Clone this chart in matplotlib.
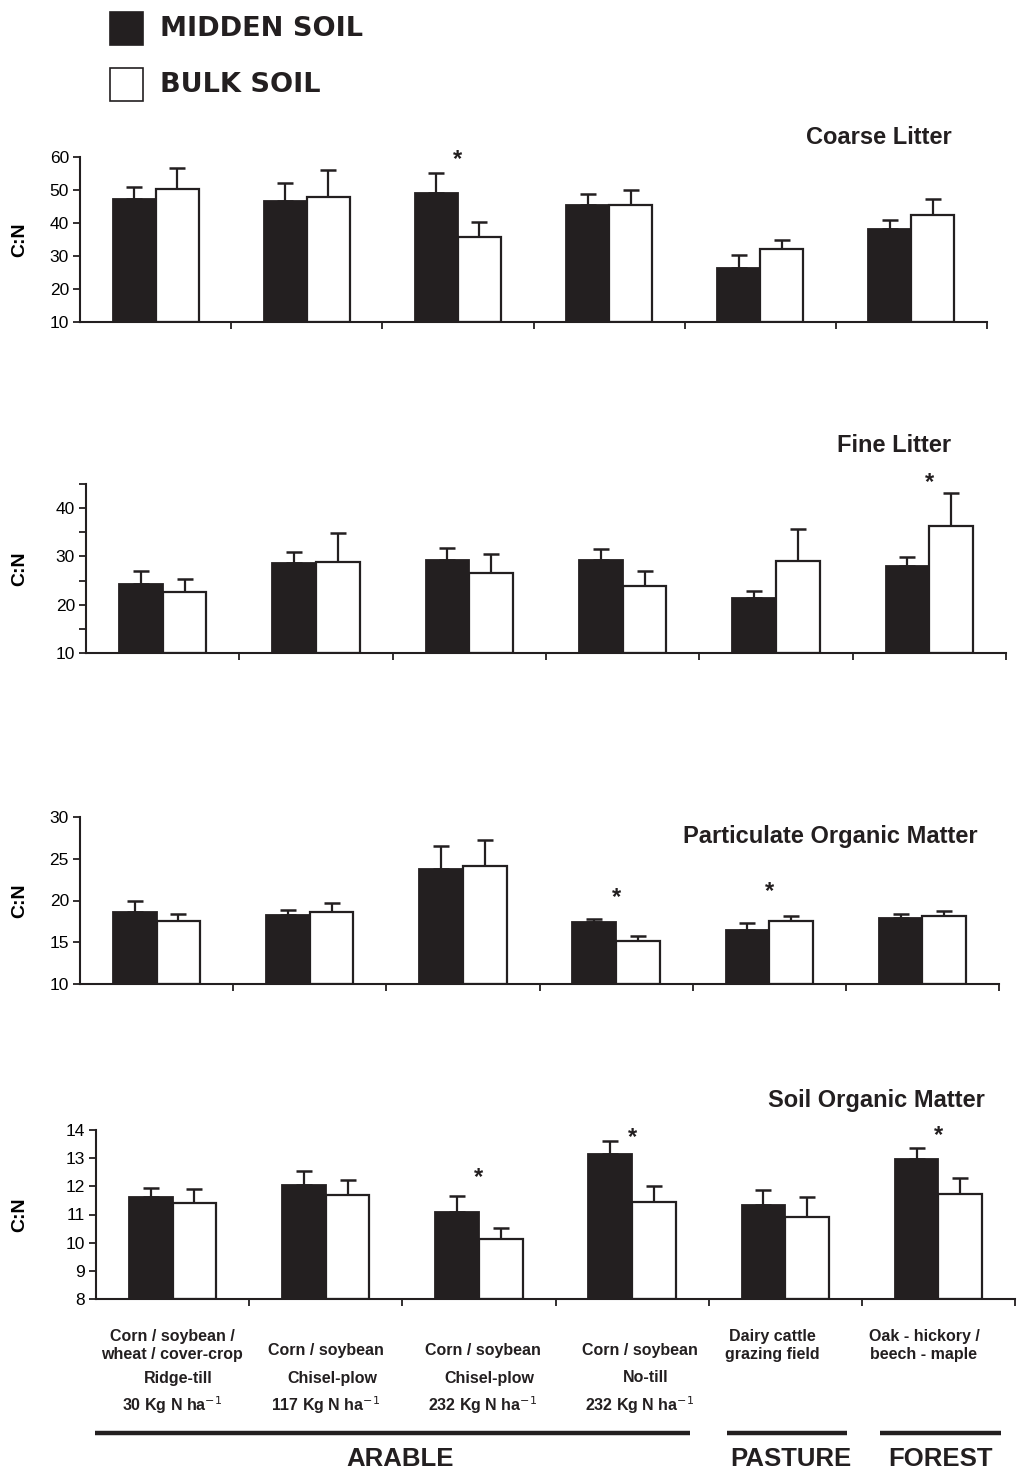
#!/usr/bin/env python3
"""C:N ratios of midden vs bulk soil fractions across land uses (4 stacked panels)."""

import matplotlib

matplotlib.use("Agg")
import matplotlib.pyplot as plt
from matplotlib import font_manager
from matplotlib.lines import Line2D
from matplotlib.patches import Rectangle
from matplotlib.ticker import MultipleLocator

W, H = 1023, 1477

# ---- data ----
coarse_midden = [47.4, 46.7, 49.2, 45.5, 26.4, 38.3]
coarse_midden_err = [3.4, 5.5, 5.8, 3.3, 3.9, 2.7]
coarse_bulk = [50.3, 48.0, 35.9, 45.5, 32.2, 42.3]
coarse_bulk_err = [6.5, 8.0, 4.3, 4.6, 2.8, 5.0]
coarse_stars = [(2, 59.1)]

fine_midden = [24.2, 28.6, 29.3, 29.3, 21.4, 28.1]
fine_midden_err = [2.8, 2.4, 2.4, 2.2, 1.4, 1.8]
fine_bulk = [22.7, 28.9, 26.5, 23.9, 29.0, 36.4]
fine_bulk_err = [2.7, 6.0, 4.1, 3.1, 6.6, 6.8]
fine_stars = [(5, 45.4)]

pom_midden = [18.6, 18.3, 23.8, 17.4, 16.5, 17.9]
pom_midden_err = [1.3, 0.6, 2.7, 0.4, 0.8, 0.5]
pom_bulk = [17.5, 18.6, 24.1, 15.2, 17.5, 18.1]
pom_bulk_err = [0.9, 1.1, 3.2, 0.5, 0.6, 0.7]
pom_stars = [(3, 20.3), (4, 21.1)]

som_midden = [11.62, 12.05, 11.10, 13.15, 11.33, 12.97]
som_midden_err = [0.32, 0.49, 0.56, 0.45, 0.54, 0.40]
som_bulk = [11.42, 11.68, 10.14, 11.43, 10.92, 11.74]
som_bulk_err = [0.48, 0.56, 0.38, 0.58, 0.69, 0.54]
som_stars = [(2, 12.3), (3, 13.75), (5, 13.82)]

crop_labels = [
    "Corn / soybean /\nwheat / cover-crop",
    "Corn / soybean",
    "Corn / soybean",
    "Corn / soybean",
    "Dairy cattle\ngrazing field",
    "Oak - hickory /\nbeech - maple",
]
tillage_labels = ["Ridge-till", "Chisel-plow", "Chisel-plow", "No-till"]
n_rates = ["30", "117", "232", "232"]
land_uses = ["ARABLE", "PASTURE", "FOREST"]

BLACK = "#231f20"


def fx(px):
    return px / W


def fy(py):
    return 1 - py / H


available = {f.name for f in font_manager.fontManager.ttflist}
NARROW = next((name for name in ("Liberation Sans Narrow", "DejaVu Sans Condensed")
               if name in available), "Liberation Sans")

plt.rcParams["font.family"] = ["Liberation Sans", "DejaVu Sans"]
plt.rcParams["font.size"] = 12

fig = plt.figure(figsize=(W / 100, H / 100), dpi=100)


def draw_panel(box, midden, midden_err, bulk, bulk_err, ylim, major, minor, stars, title, title_xy):
    left, top, right, bottom = box
    ax = fig.add_axes([fx(left), fy(bottom), fx(right) - fx(left), fy(top) - fy(bottom)])
    n = len(midden)
    centers = [i + 0.5 for i in range(n)]
    bw = 0.285
    xm = [c - bw / 2 for c in centers]
    xb = [c + bw / 2 for c in centers]
    ax.bar(xm, [v - ylim[0] for v in midden], bottom=ylim[0], width=bw,
           color=BLACK, edgecolor=BLACK, linewidth=1.3, zorder=2)
    ax.bar(xb, [v - ylim[0] for v in bulk], bottom=ylim[0], width=bw,
           color="white", edgecolor=BLACK, linewidth=1.6, zorder=2)
    for xs, ys, es in ((xm, midden, midden_err), (xb, bulk, bulk_err)):
        ax.errorbar(xs, ys, yerr=[[0] * n, es], fmt="none", ecolor=BLACK,
                    elinewidth=1.6, capsize=5.5, capthick=1.8, zorder=1)
    for idx, yv in stars:
        ax.text(centers[idx], yv, "*", ha="center", va="center", fontsize=17,
                fontweight="bold", color=BLACK, clip_on=False)

    ax.set_xlim(0, n)
    ax.set_ylim(*ylim)
    ax.set_xticks(range(1, n + 1))
    ax.set_xticklabels([])
    ax.yaxis.set_major_locator(MultipleLocator(major))
    if minor:
        ax.yaxis.set_minor_locator(MultipleLocator(minor))
    ax.tick_params(axis="both", which="both", direction="out", length=5, width=1.3, color=BLACK)
    ax.tick_params(axis="y", labelsize=12.5, pad=3)
    for side in ("top", "right"):
        ax.spines[side].set_visible(False)
    for side in ("left", "bottom"):
        ax.spines[side].set_linewidth(1.5)
        ax.spines[side].set_color(BLACK)
    ax.set_ylabel("C:N", fontsize=14, fontweight="bold", labelpad=8)
    ax.yaxis.set_label_coords(-(left - 28) / (right - left), 0.5)
    fig.text(fx(title_xy[0]), fy(title_xy[1]), title, ha="right", va="center",
             fontsize=17, fontweight="bold", color=BLACK)
    return ax


draw_panel((80, 157, 987, 322), coarse_midden, coarse_midden_err, coarse_bulk, coarse_bulk_err,
           (10, 60), 10, None, coarse_stars, "Coarse Litter", (952, 137))
draw_panel((86, 484, 1006, 653), fine_midden, fine_midden_err, fine_bulk, fine_bulk_err,
           (10, 45), 10, 5, fine_stars, "Fine Litter", (951, 445))
draw_panel((80, 817, 999, 984), pom_midden, pom_midden_err, pom_bulk, pom_bulk_err,
           (10, 30), 5, None, pom_stars, "Particulate Organic Matter", (978, 836))
draw_panel((96, 1130, 1015, 1299), som_midden, som_midden_err, som_bulk, som_bulk_err,
           (8, 14), 1, None, som_stars, "Soil Organic Matter", (985, 1100))

# legend
fig.add_artist(Rectangle((fx(110), fy(45)), fx(143) - fx(110), fy(12) - fy(45),
                         transform=fig.transFigure, facecolor=BLACK, edgecolor=BLACK, lw=1.2))
fig.add_artist(Rectangle((fx(110), fy(101)), fx(143) - fx(110), fy(68) - fy(101),
                         transform=fig.transFigure, facecolor="white", edgecolor=BLACK, lw=1.2))
fig.text(fx(160), fy(29), "MIDDEN SOIL", family="DejaVu Sans", fontweight="bold",
         fontsize=19.5, va="center", ha="left", color=BLACK)
fig.text(fx(160), fy(85), "BULK SOIL", family="DejaVu Sans", fontweight="bold",
         fontsize=19.5, va="center", ha="left", color=BLACK)

# category labels under bottom panel
label_x = [172, 326, 483, 640, 772, 924]
lab_font = dict(family=[NARROW, "DejaVu Sans"], fontweight="bold", fontsize=11.5,
                ha="center", va="center", color=BLACK, linespacing=1.25)
for i, txt in enumerate(crop_labels):
    yy = 1346 if "\n" in txt else 1350
    fig.text(fx(label_x[i]), fy(yy), txt, **lab_font)
for i, (till, rate) in enumerate(zip(tillage_labels, n_rates)):
    fig.text(fx(label_x[i] + 6), fy(1378), till, **lab_font)
    fig.text(fx(label_x[i]), fy(1405), f"{rate} Kg N ha$^{{-1}}$", **lab_font)

# land-use bars and names
spans = [(95, 690), (727, 847), (880, 1001)]
name_x = [400, 791, 941]
for (x0, x1), name, nx in zip(spans, land_uses, name_x):
    fig.add_artist(Line2D([fx(x0), fx(x1)], [fy(1433), fy(1433)], transform=fig.transFigure,
                          color=BLACK, lw=3.2, solid_capstyle="butt"))
    fig.text(fx(nx), fy(1459), name, family=[NARROW, "DejaVu Sans"], fontweight="bold",
             fontsize=18.5, ha="center", va="center", color=BLACK)

fig.savefig("out.png", dpi=100)
plt.close(fig)
